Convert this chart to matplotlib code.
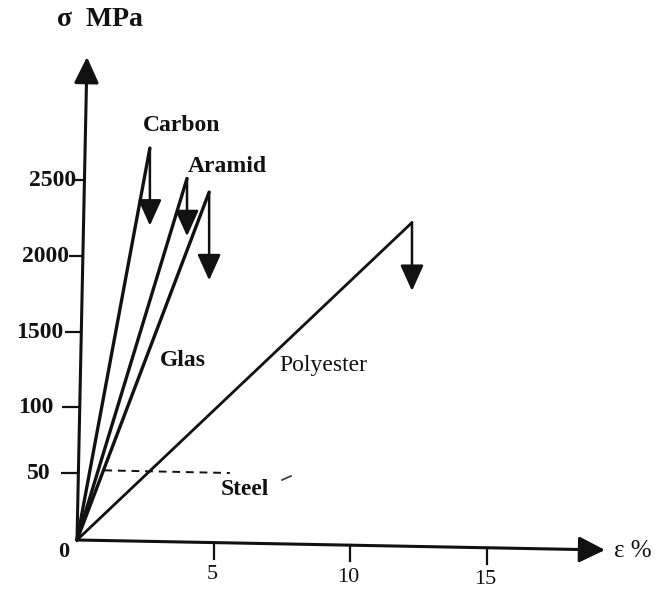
import numpy as np
import matplotlib
matplotlib.use("Agg")
import matplotlib.pyplot as plt

# ---------------- data ----------------
materials = ["Carbon", "Aramid", "Glas", "Polyester"]
strain_at_break = [2.67, 4.03, 4.84, 12.27]        # eps %
strength = [2710, 2510, 2420, 2220]                # sigma MPa (schematic axis)
failure_arrow_end = [2200, 2130, 1840, 1770]       # end of the failure arrows, MPa
steel_yield = [52, 50]                             # MPa
steel_strain = [1.0, 5.6]                          # %
y_tick_values = [0, 50, 100, 1500, 2000, 2500]
y_tick_labels = ["0", "50", "100", "1500", "2000", "2500"]
x_tick_values = [5, 10, 15]
x_tick_labels = ["5", "10", "15"]

# ---------------- schematic (broken) stress axis ----------------
_val = np.array([-1000, 0, 50, 100, 1500, 2000, 2500, 8000], float)
_pos = np.array([-1340, 0, 67, 133, 208, 284, 360, 360 + 5500 * 0.152], float)


def fwd(v):
    return np.interp(v, _val, _pos)


def inv(p):
    return np.interp(p, _pos, _val)


PX_X0, PX_Y0, PX_PER_PCT = 77.0, 540.0, 27.3
W, H = 662, 591


def px(xp, yp):
    """pixel position of the page -> data coordinates (layout helper)"""
    return (xp - PX_X0) / PX_PER_PCT, float(inv(PX_Y0 - yp))


fig = plt.figure(figsize=(W / 100, H / 100), dpi=100)
ax = fig.add_axes([0, 0, 1, 1])
ax.set_yscale("function", functions=(fwd, inv))
ax.set_xlim(-PX_X0 / PX_PER_PCT, (W - PX_X0) / PX_PER_PCT)
ax.set_ylim(inv(PX_Y0 - H), inv(PX_Y0))
ax.axis("off")

FONT = "Liberation Serif"
ink = "#111111"

# slight tilt of the scanned axes
x_drop = 10.0 / 528.0 * PX_PER_PCT   # px of drop per % along x axis
y_shift = 10.0 / 483.0 / PX_PER_PCT  # % of shift per px up the y axis


def xaxis_y(t):
    return float(inv(-x_drop * t))


def yaxis_x(v):
    return float(fwd(v)) * y_shift


# axes with arrows
x_end = (605 - PX_X0) / PX_PER_PCT
ax.annotate("", xy=(x_end, xaxis_y(x_end)), xytext=(0, 0),
            arrowprops=dict(arrowstyle="-|>,head_length=0.8,head_width=0.4",
                            color=ink, lw=2.2, shrinkA=0, shrinkB=0,
                            mutation_scale=20))
y_top = float(inv(PX_Y0 - 57))
ax.annotate("", xy=(yaxis_x(y_top), y_top), xytext=(0, 0),
            arrowprops=dict(arrowstyle="-|>,head_length=0.8,head_width=0.38",
                            color=ink, lw=2.2, shrinkA=0, shrinkB=0,
                            mutation_scale=20))

# y ticks and labels
tick_len_px = [0, 17, 18, 16, 14, 10]
label_right_px = [0, 50, 52, 62, 68, 75]
for v, lab, tl, lr in zip(y_tick_values, y_tick_labels, tick_len_px, label_right_px):
    if v == 0:
        continue
    xa = yaxis_x(v)
    ax.plot([xa - tl / PX_PER_PCT, xa], [v, v], color=ink, lw=1.6,
            solid_capstyle="butt")
    ax.text((lr + 1 - PX_X0) / PX_PER_PCT, v, lab, ha="right", va="center",
            fontsize=17, fontweight="bold", family=FONT, color=ink)
ax.text(*px(64, 552), "0", ha="center", va="center", fontsize=16,
        fontweight="bold", family=FONT, color=ink)

# x ticks and labels
for t, lab in zip(x_tick_values, x_tick_labels):
    ya = -x_drop * t
    ax.plot([t, t], [float(inv(ya)), float(inv(ya - 16))], color=ink, lw=1.6)
    ax.text(t - 0.05, float(inv(ya - 32)), lab, ha="center", va="center",
            fontsize=16, family=FONT, color=ink)

# fibre / polyester lines with failure arrows
for name, e, s, s_end in zip(materials, strain_at_break, strength, failure_arrow_end):
    lw = 2.0 if name == "Polyester" else 2.4
    ax.plot([0, e], [0, s], color=ink, lw=lw, solid_capstyle="round")
    ax.annotate("", xy=(e, s_end), xytext=(e, s),
                arrowprops=dict(arrowstyle="-|>,head_length=0.8,head_width=0.36",
                                color=ink, lw=1.8, shrinkA=0, shrinkB=0,
                                mutation_scale=20))

# steel
ax.plot(steel_strain, steel_yield, color=ink, lw=1.4, ls=(0, (4, 3)))

# labels
label_px = {"Carbon": (182, 125), "Aramid": (227, 166), "Glas": (183, 360),
            "Polyester": (323, 365)}
for name in materials:
    ax.text(*px(*label_px[name]), name, ha="center", va="center",
            fontsize=17,
            fontweight="bold" if name != "Polyester" else "normal",
            family=FONT, color=ink)
ax.text(*px(245, 489), "Steel", ha="center", va="center", fontsize=17,
        fontweight="bold", family=FONT, color=ink)
sx0, sy0 = px(282, 480)
sx1, sy1 = px(291, 476)
ax.plot([sx0, sx1], [sy0, sy1], color="#444444", lw=1.3)

# axis titles
ax.text(*px(57, 20), "σ  MPa", ha="left", va="center", fontsize=20,
        fontweight="bold", family=[FONT, "DejaVu Serif"], color=ink)
ax.text(*px(614, 551), "ε %", ha="left", va="center", fontsize=18,
        family=[FONT, "DejaVu Serif"], color=ink)

fig.savefig("out.png", dpi=100, facecolor="white")
